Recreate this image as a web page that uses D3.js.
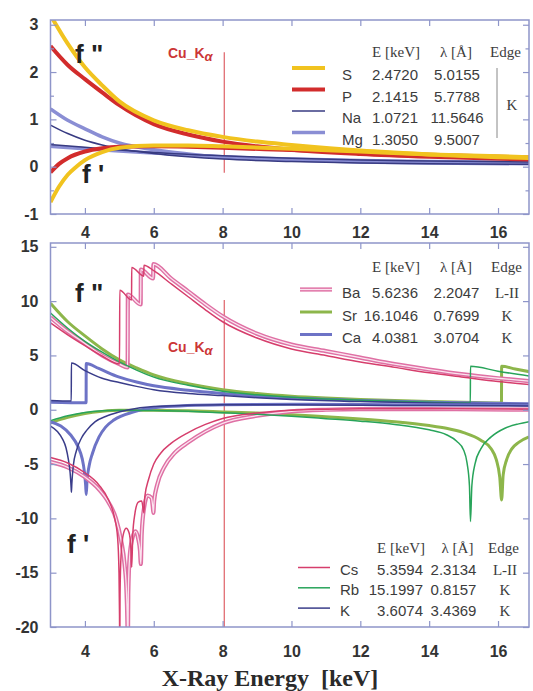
<!DOCTYPE html>
<html>
<head>
<meta charset="utf-8">
<title>Anomalous scattering factors f' and f''</title>
<script src="https://cdn.jsdelivr.net/npm/d3@7/dist/d3.min.js"></script>
<style>
  body { margin: 0; background: #fff; }
  .axis line { stroke: #8e95c9; stroke-width: 1.2; }
  .axis text { font: bold 16px "Liberation Sans", Arial, sans-serif; fill: #333; }
  .leg-num { font: 15px "Liberation Sans", Arial, sans-serif; fill: #3c3c3c; }
  .leg-head { font: 15px "Liberation Serif", "Times New Roman", serif; fill: #3c3c3c; }
  .flabel { font: bold 26px "Liberation Sans", Arial, sans-serif; fill: #222; }
  .cu { font: bold 14px "Liberation Sans", Arial, sans-serif; fill: #cc3636; }
  .xtitle { font: bold 24px "Liberation Serif", "Times New Roman", serif; fill: #2a2a2a; }
</style>
</head>
<body>
<div id="chart"></div>
<script>
// ---- values: [energy keV, f electrons] ----
const xDomain = [3, 16.9];
const topYDomain = [-1, 3.1];
const botYDomain = [-20, 15.35];
const xTicks = [4, 6, 8, 10, 12, 14, 16];
const topYTicks = [-1, 0, 1, 2, 3];
const topYMinor = [-0.5, 0.5, 1.5, 2.5];
const botYTicks = [-20, -15, -10, -5, 0, 5, 10, 15];
const cuEnergy = 8.048;
const cuTopSpan = [-0.13, 2.42];
const cuBotSpan = [-20, 10.1];

// top panel: S, P, Na, Mg
const sF2 = [[3, 3.2], [3.5, 2.6], [4, 2.1], [4.5, 1.72], [5, 1.38], [6, 0.98], [7, 0.77], [8, 0.63], [9, 0.53], [10, 0.46], [12, 0.34], [14, 0.26], [17, 0.18]];
const pF2 = [[3, 2.55], [3.5, 2.15], [4, 1.85], [4.5, 1.57], [5, 1.3], [6, 0.9], [7, 0.68], [8, 0.53], [9, 0.43], [10, 0.36], [12, 0.27], [14, 0.21], [17, 0.15]];
const naF2 = [[3, 0.88], [3.5, 0.7], [4, 0.56], [4.5, 0.46], [5, 0.38], [6, 0.28], [7, 0.21], [8, 0.16], [10, 0.11], [12, 0.08], [14, 0.06], [17, 0.05]];
const mgF2 = [[3, 1.22], [3.5, 0.98], [4, 0.8], [4.5, 0.63], [5, 0.5], [6, 0.36], [7, 0.27], [8, 0.2], [10, 0.14], [12, 0.1], [14, 0.08], [17, 0.06]];
const sF1 = [[3, -0.75], [3.25, -0.42], [3.5, -0.17], [3.75, 0.0], [4, 0.14], [4.5, 0.31], [5, 0.4], [6, 0.45], [7, 0.45], [8, 0.43], [10, 0.38], [12, 0.32], [14, 0.26], [17, 0.2]];
const pF1 = [[3, -0.12], [3.25, 0.06], [3.5, 0.18], [4, 0.32], [4.5, 0.39], [5, 0.42], [6, 0.43], [7, 0.42], [8, 0.4], [10, 0.35], [12, 0.3], [14, 0.25], [17, 0.19]];
const naF1 = [[3, 0.47], [4, 0.41], [5, 0.35], [6, 0.3], [8, 0.23], [10, 0.18], [12, 0.14], [14, 0.12], [17, 0.1]];
const mgF1 = [[3, 0.43], [4, 0.38], [5, 0.33], [6, 0.29], [8, 0.21], [10, 0.16], [12, 0.13], [14, 0.11], [17, 0.09]];

// bottom panel: Ba, Sr, Ca and Cs, Rb, K
const baF2 = [[3, 8.5], [3.5, 7.2], [4, 6.1], [4.5, 5.0], [5, 4.2], [5.24, 3.9], [5.247, 10.6], [5.62, 9.7], [5.624, 12.9], [5.98, 12.1], [5.989, 13.4], [6.5, 12.1], [7, 10.9], [7.5, 9.7], [8, 8.6], [9, 7.0], [10, 6.0], [11, 5.4], [12, 4.8], [13, 4.2], [14, 3.7], [15, 3.25], [16, 2.9], [17, 2.6]];
const csF2 = [[3, 8.0], [3.5, 6.9], [4, 5.9], [4.5, 4.95], [5.005, 4.2], [5.012, 11.0], [5.355, 10.1], [5.359, 13.1], [5.71, 12.3], [5.714, 13.3], [6, 12.8], [6.5, 11.6], [7, 10.4], [7.5, 9.2], [8, 8.1], [9, 6.6], [10, 5.6], [11, 5.0], [12, 4.4], [13, 3.9], [14, 3.4], [15, 3.0], [16, 2.6], [17, 2.3]];
const srF2 = [[3, 9.8], [3.5, 8.1], [4, 6.8], [4.5, 5.6], [5, 4.6], [5.5, 3.85], [6, 3.2], [7, 2.4], [8, 1.85], [9, 1.5], [10, 1.25], [11, 1.08], [12, 0.95], [13, 0.84], [14, 0.75], [15, 0.68], [16.1, 0.62], [16.105, 4.0], [16.5, 3.75], [17, 3.45]];
const rbF2 = [[3, 8.9], [3.5, 7.5], [4, 6.3], [4.5, 5.3], [5, 4.4], [5.5, 3.65], [6, 3.0], [7, 2.25], [8, 1.7], [9, 1.38], [10, 1.15], [11, 1.0], [12, 0.88], [13, 0.78], [14, 0.7], [15.195, 0.62], [15.2, 4.0], [16, 3.55], [17, 3.05]];
const caF2 = [[3, 0.7], [4.034, 0.65], [4.038, 4.25], [4.4, 3.8], [5, 3.0], [5.5, 2.55], [6, 2.2], [7, 1.8], [8, 1.5], [9, 1.25], [10, 1.07], [12, 0.85], [14, 0.7], [17, 0.55]];
const kF2 = [[3, 0.85], [3.603, 0.8], [3.607, 4.3], [4, 3.6], [4.5, 2.9], [5, 2.5], [5.5, 2.15], [6, 1.85], [7, 1.5], [8, 1.3], [9, 1.1], [10, 0.95], [12, 0.75], [14, 0.62], [17, 0.5]];
const baF1 = [[3, -4.8], [3.5, -5.3], [4, -6.2], [4.4, -7.3], [4.7, -8.6], [4.9, -10.0], [5.05, -12.0], [5.15, -14.2], [5.21, -17.0], [5.24, -21], [5.247, -23], [5.26, -17], [5.3, -13.5], [5.38, -11.8], [5.47, -11.2], [5.55, -11.9], [5.6, -13], [5.624, -14.2], [5.65, -11.4], [5.72, -9.0], [5.82, -7.9], [5.93, -8.1], [5.97, -8.9], [5.989, -9.5], [6.01, -8.4], [6.1, -6.9], [6.3, -5.3], [6.6, -4.0], [7, -3.0], [7.5, -2.0], [8, -1.25], [9, -0.55], [10, -0.15], [11, 0.0], [12, 0.05], [14, 0.05], [17, 0.0]];
const csF1 = [[3, -4.4], [3.5, -4.9], [4, -5.8], [4.4, -6.9], [4.7, -8.4], [4.85, -9.8], [4.95, -11.8], [4.99, -15], [5.005, -19], [5.012, -23], [5.02, -17], [5.05, -13.4], [5.12, -11.4], [5.2, -10.9], [5.28, -11.3], [5.33, -12.5], [5.359, -14.5], [5.39, -11.5], [5.45, -9.6], [5.55, -8.5], [5.65, -8.4], [5.714, -9.5], [5.74, -8.0], [5.85, -6.4], [6.0, -5.0], [6.2, -4.0], [6.5, -3.1], [7, -2.1], [7.5, -1.35], [8, -0.8], [9, -0.3], [10, -0.05], [11, 0.05], [12, 0.1], [14, 0.1], [17, 0.05]];
const srF1 = [[3, -1.2], [3.5, -0.7], [4, -0.35], [4.5, -0.15], [5, -0.05], [6, -0.05], [7, -0.1], [8, -0.2], [9, -0.3], [10, -0.45], [11, -0.65], [12, -0.85], [13, -1.1], [14, -1.45], [14.5, -1.7], [15, -2.1], [15.5, -2.8], [15.8, -3.6], [15.95, -4.6], [16.05, -6.2], [16.105, -8.3], [16.15, -6.0], [16.25, -4.6], [16.4, -3.6], [16.6, -3.0], [16.9, -2.5]];
const rbF1 = [[3, -1.0], [3.5, -0.55], [4, -0.25], [4.5, -0.1], [5, -0.05], [6, -0.08], [7, -0.15], [8, -0.28], [9, -0.42], [10, -0.6], [11, -0.82], [12, -1.05], [13, -1.35], [14, -1.85], [14.5, -2.3], [14.8, -2.9], [15.0, -3.7], [15.1, -4.9], [15.17, -7.0], [15.2, -10.3], [15.24, -7.0], [15.33, -5.0], [15.5, -3.6], [15.8, -2.5], [16.2, -1.7], [16.6, -1.3], [16.9, -1.1]];
const caF1 = [[3, -1.1], [3.3, -1.5], [3.58, -2.3], [3.8, -3.4], [3.92, -4.5], [3.98, -5.6], [4.02, -6.9], [4.038, -7.8], [4.06, -6.6], [4.12, -5.2], [4.22, -4.0], [4.41, -2.5], [4.6, -1.6], [4.84, -0.95], [5.42, -0.2], [6.2, 0.25], [8, 0.45], [10, 0.5], [12, 0.48], [14, 0.45], [17, 0.42]];
const kF1 = [[3, -1.5], [3.2, -2.0], [3.35, -2.7], [3.45, -3.5], [3.52, -4.6], [3.57, -5.8], [3.6, -7.2], [3.607, -7.6], [3.62, -6.8], [3.66, -5.2], [3.75, -3.8], [3.9, -2.6], [4.05, -1.9], [4.3, -1.1], [4.65, -0.55], [5.2, -0.05], [6, 0.3], [8, 0.45], [10, 0.45], [12, 0.42], [14, 0.38], [17, 0.35]];

// legend tables
const topElems = ['S', 'P', 'Na', 'Mg'];
const topEnergies = ['2.4720', '2.1415', '1.0721', '1.3050'];
const topLambdas = ['5.0155', '5.7788', '11.5646', '9.5007'];
const upElems = ['Ba', 'Sr', 'Ca'];
const upEnergies = ['5.6236', '16.1046', '4.0381'];
const upLambdas = ['2.2047', '0.7699', '3.0704'];
const upEdges = ['L-II', 'K', 'K'];
const lowElems = ['Cs', 'Rb', 'K'];
const lowEnergies = ['5.3594', '15.1997', '3.6074'];
const lowLambdas = ['2.3134', '0.8157', '3.4369'];
const lowEdges = ['L-II', 'K', 'K'];

// line styles
const styles = {
  S: { stroke: '#f1c31f', width: 4 },
  P: { stroke: '#d22c2c', width: 4 },
  Na: { stroke: '#383b82', width: 1.5 },
  Mg: { stroke: '#8a8ed4', width: 3.5 },
  Ba: { stroke: '#df70a4', width: 4.2, core: '#fbe4ef' },
  Cs: { stroke: '#d63e6c', width: 1.5 },
  Sr: { stroke: '#8db64b', width: 3 },
  Rb: { stroke: '#28a45a', width: 1.5 },
  Ca: { stroke: '#6d73c6', width: 3 },
  K: { stroke: '#3a3d8a', width: 1.5 }
};

const width = 533, height = 691;
const svg = d3.select('#chart').append('svg')
  .attr('width', width)
  .attr('height', height);

const x = d3.scaleLinear().domain(xDomain).range([50.5, 529]);
const yTop = d3.scaleLinear().domain(topYDomain).range([214, 20]);
const yBot = d3.scaleLinear().domain(botYDomain).range([627, 243]);

const makePanel = (y, id) => {
  const [x0, x1] = x.range();
  const [yb, yt] = y.range();
  svg.append('clipPath').attr('id', id)
    .append('rect')
    .attr('x', x0).attr('y', yt)
    .attr('width', x1 - x0).attr('height', yb - yt);
  const plot = svg.append('g').attr('clip-path', `url(#${id})`);
  return { plot, x0, x1, yb, yt, y };
};

const addAxis = (axis, tx, ty) => svg.append('g')
  .attr('class', 'axis')
  .attr('transform', `translate(${tx},${ty})`)
  .call(axis)
  .call(g => g.select('.domain').remove());

const drawFrame = p => svg.append('rect')
  .attr('x', p.x0).attr('y', p.yt)
  .attr('width', p.x1 - p.x0).attr('height', p.yb - p.yt)
  .attr('fill', 'none')
  .attr('stroke', '#8e95c9')
  .attr('stroke-width', 1.5);

const drawSeries = (p, data, st) => {
  const line = d3.line()
    .x(d => x(d[0]))
    .y(d => p.y(d[1]))
    .curve(d3.curveMonotoneX);
  p.plot.append('path').datum(data)
    .attr('fill', 'none')
    .attr('stroke', st.stroke)
    .attr('stroke-width', st.width)
    .attr('stroke-linejoin', 'round')
    .attr('d', line);
  if (st.core) {
    p.plot.append('path').datum(data)
      .attr('fill', 'none')
      .attr('stroke', st.core)
      .attr('stroke-width', 1.3)
      .attr('d', line);
  }
};

const drawCu = (p, span, labelY) => {
  p.plot.append('line')
    .attr('x1', x(cuEnergy)).attr('x2', x(cuEnergy))
    .attr('y1', p.y(span[0])).attr('y2', p.y(span[1]))
    .attr('stroke', '#d9464e')
    .attr('stroke-width', 1.2)
    .attr('opacity', 0.85);
  const t = svg.append('text').attr('class', 'cu').attr('x', 168).attr('y', labelY);
  t.append('tspan').text('Cu_K');
  t.append('tspan').attr('font-style', 'italic').attr('font-size', 13).attr('dy', 3).text('α');
};

// ---- top panel
const topPanel = makePanel(yTop, 'clip-top');
drawCu(topPanel, cuTopSpan, 58);
[[mgF2, mgF1, 'Mg'], [naF2, naF1, 'Na'], [pF2, pF1, 'P'], [sF2, sF1, 'S']].forEach(([f2, f1, el]) => {
  drawSeries(topPanel, f2, styles[el]);
  drawSeries(topPanel, f1, styles[el]);
});
drawFrame(topPanel);
addAxis(d3.axisLeft(yTop).tickValues(topYTicks).tickSize(-6).tickPadding(12).tickFormat(String), topPanel.x0, 0);
addAxis(d3.axisLeft(yTop).tickValues(topYMinor).tickSize(-3.5).tickFormat(''), topPanel.x0, 0);
addAxis(d3.axisRight(yTop).tickValues(topYTicks).tickSize(-6).tickFormat(''), topPanel.x1, 0);
addAxis(d3.axisRight(yTop).tickValues(topYMinor).tickSize(-3.5).tickFormat(''), topPanel.x1, 0);
addAxis(d3.axisTop(x).tickValues(xTicks).tickSize(-6).tickFormat(''), 0, topPanel.yt);
addAxis(d3.axisBottom(x).tickValues(xTicks).tickSize(-6).tickFormat(''), 0, topPanel.yb);

// ---- bottom panel: thick f'' lines first, thin ones over them, then f'
const botPanel = makePanel(yBot, 'clip-bot');
drawCu(botPanel, cuBotSpan, 352);
[[srF2, 'Sr'], [caF2, 'Ca'], [baF2, 'Ba'], [rbF2, 'Rb'], [kF2, 'K'], [csF2, 'Cs']]
  .forEach(([f2, el]) => drawSeries(botPanel, f2, styles[el]));
[[srF1, 'Sr'], [caF1, 'Ca'], [baF1, 'Ba'], [rbF1, 'Rb'], [kF1, 'K'], [csF1, 'Cs']]
  .forEach(([f1, el]) => drawSeries(botPanel, f1, styles[el]));
drawFrame(botPanel);
addAxis(d3.axisLeft(yBot).tickValues(botYTicks).tickSize(-6).tickPadding(12).tickFormat(String), botPanel.x0, 0);
addAxis(d3.axisRight(yBot).tickValues(botYTicks).tickSize(-6).tickFormat(''), botPanel.x1, 0);
addAxis(d3.axisTop(x).tickValues(xTicks).tickSize(-6).tickPadding(5).tickFormat(String), 0, botPanel.yt);
addAxis(d3.axisBottom(x).tickValues(xTicks).tickSize(-6).tickPadding(19).tickFormat(String), 0, botPanel.yb);

// f'' / f' labels
[['f "', 75, 63], ["f '", 82, 183], ['f "', 75, 302], ["f '", 67, 553]].forEach(([t, lx, ly]) => {
  svg.append('text').attr('class', 'flabel').attr('x', lx).attr('y', ly).text(t);
});

// x title
svg.append('text').attr('class', 'xtitle')
  .attr('x', 270).attr('y', 686)
  .attr('text-anchor', 'middle')
  .style('white-space', 'pre')
  .text('X-Ray Energy  [keV]');

// ---- legends
const drawSample = (g, xs, yy, st) => {
  g.append('line').attr('x1', xs[0]).attr('x2', xs[1]).attr('y1', yy).attr('y2', yy)
    .attr('stroke', st.stroke).attr('stroke-width', st.width);
  if (st.core) {
    g.append('line').attr('x1', xs[0]).attr('x2', xs[1]).attr('y1', yy).attr('y2', yy)
      .attr('stroke', st.core).attr('stroke-width', 1.3);
  }
};

const drawLegend = cfg => {
  const g = svg.append('g');
  g.append('text').attr('class', 'leg-head').attr('x', cfg.eX + 2).attr('y', cfg.headY)
    .attr('text-anchor', 'end').text('E [keV]');
  g.append('text').attr('class', 'leg-head').attr('x', cfg.lamHeadX).attr('y', cfg.headY)
    .attr('text-anchor', 'middle').text('λ [Å]');
  g.append('text').attr('class', 'leg-head').attr('x', cfg.edgeHeadX).attr('y', cfg.headY)
    .text('Edge');
  cfg.elems.forEach((el, i) => {
    const yy = cfg.rowY + i * cfg.rowDy;
    drawSample(g, cfg.sampleX, yy + cfg.sampleDy, styles[el]);
    g.append('text').attr('class', 'leg-num').attr('x', cfg.symX).attr('y', yy).text(el);
    g.append('text').attr('class', 'leg-num').attr('x', cfg.eX).attr('y', yy)
      .attr('text-anchor', 'end').text(cfg.energies[i]);
    g.append('text').attr('class', 'leg-num').attr('x', cfg.lamX).attr('y', yy)
      .attr('text-anchor', 'middle').text(cfg.lambdas[i]);
    if (cfg.edges) {
      g.append('text').attr('class', 'leg-head').attr('x', cfg.edgeX).attr('y', yy)
        .attr('text-anchor', 'middle').text(cfg.edges[i]);
    }
  });
  return g;
};

const topLeg = drawLegend({
  elems: topElems, energies: topEnergies, lambdas: topLambdas,
  headY: 57, rowY: 80, rowDy: 21.5, symX: 342, eX: 418, lamX: 457, lamHeadX: 456,
  edgeHeadX: 490, sampleX: [292, 325], sampleDy: -12
});
// shared K edge bracket
topLeg.append('line').attr('x1', 497).attr('x2', 497).attr('y1', 68).attr('y2', 138)
  .attr('stroke', '#888').attr('stroke-width', 1);
topLeg.append('text').attr('class', 'leg-head').attr('x', 512).attr('y', 110)
  .attr('text-anchor', 'middle').attr('font-size', 16).text('K');

drawLegend({
  elems: upElems, energies: upEnergies, lambdas: upLambdas, edges: upEdges,
  headY: 272, rowY: 298, rowDy: 22.5, symX: 342, eX: 418, lamX: 456.5, lamHeadX: 456,
  edgeHeadX: 491, edgeX: 507, sampleX: [300, 332], sampleDy: -8.5
});

drawLegend({
  elems: lowElems, energies: lowEnergies, lambdas: lowLambdas, edges: lowEdges,
  headY: 553, rowY: 575, rowDy: 20.3, symX: 340, eX: 423, lamX: 453.5, lamHeadX: 457.5,
  edgeHeadX: 488, edgeX: 505, sampleX: [298, 330], sampleDy: -7.5
});
</script>
</body>
</html>
